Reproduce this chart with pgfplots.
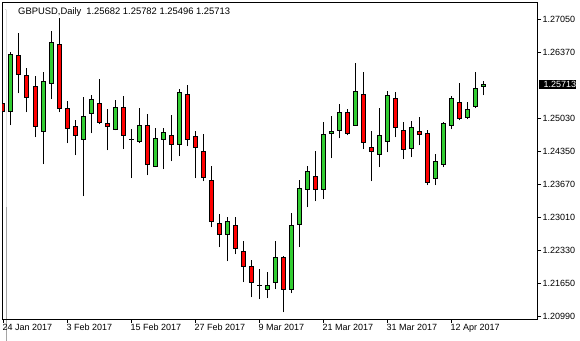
\documentclass[border=0pt]{standalone}
\usepackage{pgfplots}
\pgfplotsset{compat=1.18}
\usepackage{pgfplotstable}
\usepackage{fontspec}
\setmainfont{Liberation Sans}
\definecolor{bull}{RGB}{50,205,50}
\definecolor{bear}{RGB}{255,0,0}

% index O H L C  (index 0 = 24 Jan 2017, trading days)
\pgfplotstableread{
i O H L C
1 1.25173 1.26377 1.24887 1.26336
5 1.24765 1.25969 1.24091 1.25785
6 1.25744 1.26805 1.25418 1.26581
10 1.24602 1.25459 1.23439 1.25071
11 1.25132 1.25499 1.24724 1.25418
14 1.24806 1.25397 1.24785 1.25254
17 1.24561 1.25234 1.24520 1.24887
19 1.24051 1.24826 1.24030 1.24622
20 1.24602 1.24826 1.23989 1.24744
22 1.24500 1.25622 1.24255 1.25560
28 1.22663 1.23010 1.22112 1.22928
33 1.21541 1.21888 1.21357 1.21623
34 1.21684 1.22520 1.21541 1.22194
36 1.21541 1.23092 1.21459 1.22847
37 1.22867 1.23765 1.22398 1.23602
38 1.23581 1.24051 1.23214 1.23949
40 1.23581 1.24948 1.23377 1.24704
41 1.24724 1.25071 1.24214 1.24765
42 1.24785 1.25316 1.24622 1.25152
44 1.24887 1.26152 1.24887 1.25581
47 1.24296 1.25234 1.24030 1.24683
48 1.24561 1.25581 1.24336 1.25499
51 1.24418 1.24969 1.24234 1.24846
54 1.23806 1.24296 1.23663 1.24153
55 1.24091 1.24948 1.24030 1.24928
56 1.24887 1.25479 1.24806 1.25438
58 1.25050 1.25356 1.25010 1.25214
59 1.25275 1.25969 1.25234 1.25642
60 1.25682 1.25782 1.25496 1.25713
}\up

\pgfplotstableread{
i O H L C
0 1.25336 1.25438 1.24173 1.25173
2 1.26315 1.26764 1.25540 1.25928
3 1.25907 1.26050 1.25152 1.25459
4 1.25683 1.25887 1.24642 1.24867
7 1.26540 1.27070 1.25152 1.25234
8 1.25234 1.25377 1.24520 1.24826
9 1.24867 1.24989 1.24275 1.24683
12 1.25336 1.25826 1.24908 1.24948
13 1.24928 1.25214 1.24377 1.24867
15 1.25254 1.25479 1.24398 1.24683
18 1.24887 1.25112 1.23867 1.24091
21 1.24683 1.25091 1.24153 1.24500
23 1.25520 1.25703 1.24459 1.24602
24 1.24663 1.24765 1.23806 1.24438
25 1.24357 1.24704 1.23745 1.23826
26 1.23765 1.24051 1.22806 1.22928
27 1.22888 1.23071 1.22398 1.22663
29 1.22847 1.23010 1.22255 1.22378
30 1.22316 1.22520 1.21684 1.22010
31 1.22010 1.22133 1.21378 1.21684
35 1.22194 1.22214 1.21072 1.21541
39 1.23847 1.24357 1.23337 1.23581
43 1.25152 1.25214 1.24683 1.24724
45 1.25520 1.25969 1.24398 1.24540
46 1.24438 1.24765 1.23745 1.24357
49 1.25438 1.25560 1.24642 1.24846
50 1.24785 1.24948 1.24193 1.24398
52 1.24765 1.25050 1.24479 1.24704
53 1.24724 1.24785 1.23663 1.23724
57 1.25356 1.25744 1.24989 1.25030
}\down

\pgfplotstableread{
i O H L C
16 1.24602 1.24806 1.23806 1.24602
32 1.21623 1.21949 1.21337 1.21623
}\doji

\pgfplotsset{
  nomark/.style={only marks, mark=*, mark size=0pt, mark options={draw=none, fill=none}},
  wick/.style={nomark,
    error bars/.cd, y dir=plus, y explicit, error mark=none,
    error bar style={black, line width=1pt}},
  bodyout/.style={nomark,
    error bars/.cd, y dir=both, y explicit, error mark=none,
    error bar style={black, line width=5pt}},
  bodyin/.style={nomark,
    error bars/.cd, y dir=both, y explicit, error mark=none,
    error bar style={#1, line width=3pt}},
}

\begin{document}
\begin{tikzpicture}
\useasboundingbox (-2.5pt,-21pt) rectangle (577.5pt,319pt);
\begin{axis}[
  scale only axis, width=534.5pt, height=317pt,
  xmin=-0.0625, xmax=66.75, ymin=1.20929, ymax=1.27397,
  clip mode=individual,
  axis line style={black, line width=0.8pt},
  tick align=outside, major tick length=4pt,
  tick style={black, line width=0.8pt},
  xtick pos=left, ytick pos=right, yticklabel pos=right,
  xtick={0,8,16,24,32,40,48,56},
  xticklabels={24 Jan 2017, 3 Feb 2017, 15 Feb 2017, 27 Feb 2017, 9 Mar 2017, 21 Mar 2017, 31 Mar 2017, 12 Apr 2017},
  ytick={1.2099,1.2165,1.2233,1.2301,1.2367,1.2435,1.2503,1.2637,1.2705},
  yticklabels={1.20990,1.21650,1.22330,1.23010,1.23670,1.24350,1.25030,1.26370,1.27050},
  scaled y ticks=false,
  ticklabel style={font=\fontsize{9}{10}\selectfont},
  xticklabel style={anchor=north west, inner sep=0pt, xshift=-0.5pt, yshift=-1pt},
  yticklabel style={anchor=west, inner sep=0pt, xshift=1.5pt},
]
% wicks
\addplot[wick] table[x=i, y=L, y error expr=\thisrow{H}-\thisrow{L}] {\up};
\addplot[wick] table[x=i, y=L, y error expr=\thisrow{H}-\thisrow{L}] {\down};
\addplot[wick] table[x=i, y=L, y error expr=\thisrow{H}-\thisrow{L}] {\doji};
% body outlines
\addplot[bodyout] table[x=i, y expr=(\thisrow{O}+\thisrow{C})/2, y error expr=abs(\thisrow{O}-\thisrow{C})/2+0.0001] {\up};
\addplot[bodyout] table[x=i, y expr=(\thisrow{O}+\thisrow{C})/2, y error expr=abs(\thisrow{O}-\thisrow{C})/2+0.0001] {\down};
\addplot[bodyout] table[x=i, y expr=(\thisrow{O}+\thisrow{C})/2, y error expr=abs(\thisrow{O}-\thisrow{C})/2+0.0001] {\doji};
% body fills
\addplot[bodyin=bull] table[x=i, y expr=(\thisrow{O}+\thisrow{C})/2, y error expr=abs(\thisrow{O}-\thisrow{C})/2-0.0001] {\up};
\addplot[bodyin=bear] table[x=i, y expr=(\thisrow{O}+\thisrow{C})/2, y error expr=abs(\thisrow{O}-\thisrow{C})/2-0.0001] {\down};

% title
\fill ([xshift=3.5pt,yshift=-7pt]rel axis cs:0,1) -- ++(7pt,0) -- ++(-3.5pt,-4pt) -- cycle;
\node[anchor=base west, inner sep=0pt, font=\fontsize{9.4}{11}\selectfont]
  at ([xshift=15.5pt,yshift=-12.7pt]rel axis cs:0,1)
  {GBPUSD,Daily\hspace{5pt}1.25682 1.25782 1.25496 1.25713};
% current price label
\node[anchor=west, fill=black, text=white, inner xsep=0pt, inner ysep=0pt,
      minimum height=9.5pt, font=\fontsize{9}{10}\selectfont]
  at ([xshift=1.5pt]axis cs:66.75,1.25713) {\hspace{5pt}1.25713\hspace{6pt}};
\end{axis}
\end{tikzpicture}
\end{document}
